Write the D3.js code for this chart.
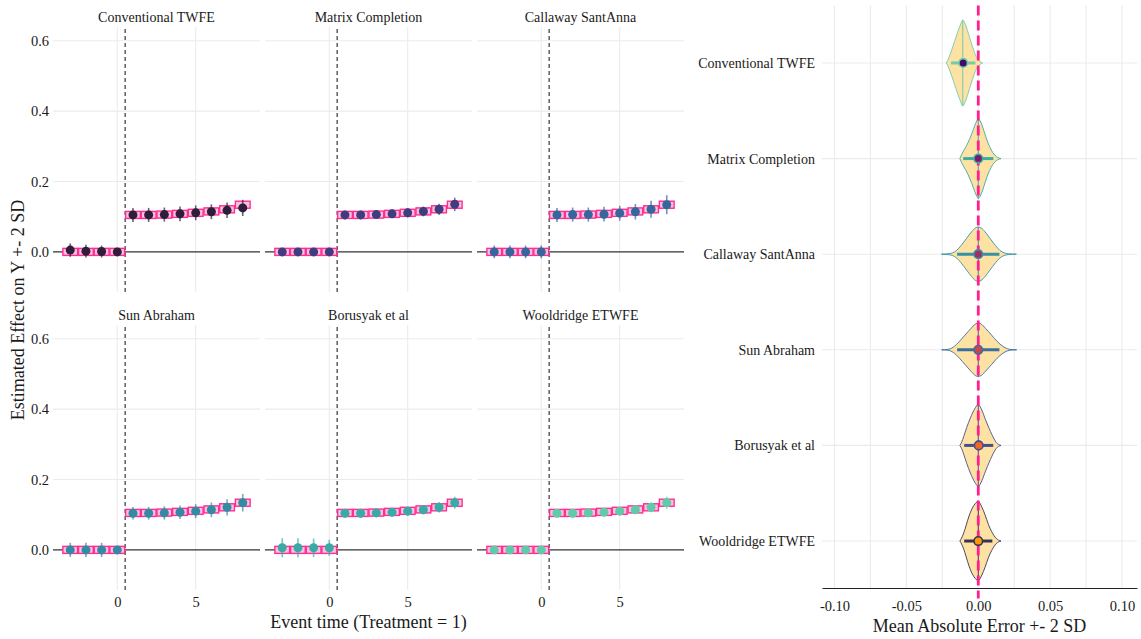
<!DOCTYPE html>
<html><head><meta charset="utf-8">
<script src="https://cdn.jsdelivr.net/npm/d3@7"></script>
<style>
body{margin:0;background:#fff}
text{font-family:"Liberation Serif","Times New Roman",serif;fill:#1a1a1a}
</style>
</head><body>
<svg id="c" width="1141" height="639"></svg>
<script>
// ---------------- DATA ----------------
const methods = ["Conventional TWFE","Matrix Completion","Callaway SantAnna","Sun Abraham","Borusyak et al","Wooldridge ETWFE"];
const eventTimes = [-3,-2,-1,0,1,2,3,4,5,6,7,8];
const trueEffect = [0,0,0,0,0.105,0.105,0.106,0.108,0.111,0.115,0.121,0.134];
const trueBand = 0.01;

const estTWFE = [0.005,0.002,0.001,0.000,0.105,0.105,0.106,0.108,0.111,0.114,0.118,0.125];
const errTWFE = [0.019,0.018,0.017,0.000,0.020,0.020,0.020,0.021,0.021,0.021,0.022,0.023];
const estMC   = [0,0,0,0,0.105,0.105,0.106,0.108,0.111,0.115,0.121,0.135];
const errMC   = [0.006,0.006,0.006,0.006,0.012,0.012,0.012,0.012,0.013,0.014,0.016,0.019];
const estCS   = [0,0,0,0,0.105,0.106,0.106,0.107,0.110,0.114,0.121,0.134];
const errCS   = [0.018,0.018,0.018,0.018,0.020,0.020,0.020,0.021,0.021,0.022,0.024,0.027];
const estSA   = [0,0,0,0,0.104,0.104,0.105,0.107,0.110,0.114,0.121,0.134];
const errSA   = [0.020,0.020,0.020,0.000,0.018,0.018,0.019,0.019,0.020,0.021,0.023,0.025];
const estBJS  = [0.006,0.006,0.006,0.006,0.104,0.104,0.105,0.107,0.110,0.114,0.121,0.134];
const errBJS  = [0.027,0.027,0.026,0.023,0.012,0.012,0.012,0.012,0.013,0.013,0.015,0.017];
const estWO   = [0,0,0,0,0.104,0.104,0.105,0.107,0.110,0.114,0.121,0.134];
const errWO   = [0.003,0.003,0.003,0.003,0.010,0.010,0.010,0.011,0.011,0.012,0.014,0.017];

const yTickVals = [0.0,0.2,0.4,0.6];
const xTickVals = [0,5];
const treatStart = 0.5;

// violin panel data (mean absolute error distributions)
const vioMean   = [-0.0105,0,0,0,0.0003,0];
const vioSD2    = [0.0085,0.0105,0.0147,0.0147,0.0101,0.0098];
const vioMedian = [-0.0108,0,0,0,0,0];
// density profiles: [x, relative density]
const densTWFE = [[-0.0222,0],[-0.0205,0.12],[-0.0185,0.3],[-0.0165,0.5],[-0.0145,0.7],[-0.0125,0.88],[-0.0108,1.0],[-0.009,0.9],[-0.007,0.7],[-0.005,0.48],[-0.003,0.28],[-0.001,0.12],[0.001,0.04],[0.003,0]];
const densMC   = [[-0.0128,0],[-0.0115,0.1],[-0.009,0.25],[-0.007,0.38],[-0.0045,0.58],[-0.0025,0.76],[-0.001,0.88],[0,0.93],[0.0012,0.88],[0.0028,0.76],[0.0048,0.55],[0.0068,0.36],[0.009,0.2],[0.0115,0.08],[0.0158,0]];
const densCS   = [[-0.0256,0],[-0.021,0.01],[-0.018,0.03],[-0.015,0.09],[-0.012,0.2],[-0.0081,0.37],[-0.0047,0.52],[-0.002,0.61],[0,0.63],[0.002,0.61],[0.0047,0.52],[0.0081,0.37],[0.012,0.2],[0.015,0.09],[0.018,0.03],[0.021,0.01],[0.0265,0]];
const densSA   = [[-0.0255,0],[-0.021,0.01],[-0.0174,0.06],[-0.013,0.2],[-0.0093,0.34],[-0.005,0.5],[-0.002,0.6],[0,0.62],[0.002,0.6],[0.005,0.5],[0.0093,0.34],[0.013,0.2],[0.0186,0.05],[0.022,0.01],[0.0267,0]];
const densBJS  = [[-0.0128,0],[-0.0115,0.08],[-0.0102,0.2],[-0.008,0.42],[-0.0055,0.64],[-0.0025,0.85],[0,0.95],[0.0025,0.82],[0.005,0.6],[0.0075,0.4],[0.0095,0.25],[0.0125,0.07],[0.0158,0]];
const densWO   = [[-0.0128,0],[-0.0116,0.07],[-0.0093,0.27],[-0.0075,0.47],[-0.0058,0.64],[-0.003,0.83],[0,0.92],[0.0025,0.79],[0.0047,0.61],[0.007,0.39],[0.0093,0.22],[0.0125,0.06],[0.0158,0]];
const vioTicks = [-0.10,-0.05,0.00,0.05,0.10];
const vioGrid  = [-0.1,-0.075,-0.05,-0.025,0,0.025,0.05,0.075,0.1];

// ---------------- STYLE / LAYOUT ----------------
const estimates = [estTWFE,estMC,estCS,estSA,estBJS,estWO];
const errors    = [errTWFE,errMC,errCS,errSA,errBJS,errWO];
const densities = [densTWFE,densMC,densCS,densSA,densBJS,densWO];
const dotColors  = ["#2e1e3c","#3f3d7f","#37659e","#348aa5","#3aaaa8","#60cbab"];
const vioLine    = ["#72ccab","#3aaca6","#3591a8","#3a6ea0","#474e8d","#3a3356"];
const vioDot     = ["#420a68","#781c6d","#a52c60","#cf4446","#ed6925","#fb9b06"];
const gridCol = "#ebebeb";

const svg = d3.select("#c");
const colX = [53,265,477], panelW = 207;
const rowY = [27,325], panelH = 265;

methods.forEach((m,i)=>{
  const col=i%3, row=Math.floor(i/3);
  const x=d3.scaleLinear().domain([-4.1,9.1]).range([colX[col],colX[col]+panelW]);
  const y=d3.scaleLinear().domain([-0.114,0.639]).range([rowY[row]+panelH,rowY[row]]);
  const g=svg.append("g");
  g.selectAll(".hg").data(yTickVals.filter(v=>v>0)).join("line")
    .attr("x1",x.range()[0]).attr("x2",x.range()[1]).attr("y1",d=>y(d)).attr("y2",d=>y(d))
    .attr("stroke",gridCol).attr("stroke-width",1.1);
  g.selectAll(".vg").data(xTickVals).join("line")
    .attr("x1",d=>x(d)).attr("x2",d=>x(d)).attr("y1",y.range()[0]).attr("y2",y.range()[1])
    .attr("stroke",gridCol).attr("stroke-width",1.1);
  g.append("line").attr("x1",x.range()[0]).attr("x2",x.range()[1]).attr("y1",y(0)).attr("y2",y(0))
    .attr("stroke","#333").attr("stroke-width",1.2);
  g.append("line").attr("x1",x(treatStart)).attr("x2",x(treatStart)).attr("y1",y.range()[0]).attr("y2",y.range()[1])
    .attr("stroke","#222").attr("stroke-width",1.1).attr("stroke-dasharray","4,3");
  // true-effect boxes
  g.selectAll(".bx").data(eventTimes).join("rect")
    .attr("x",(d)=>x(d-0.47)).attr("width",x(0.94)-x(0))
    .attr("y",(d,k)=>y(trueEffect[k]+trueBand)).attr("height",(d,k)=>y(trueEffect[k]-trueBand)-y(trueEffect[k]+trueBand))
    .attr("fill","#f7c3da").attr("stroke","#ff2d95").attr("stroke-width",1.4);
  // error bars
  g.selectAll(".eb").data(eventTimes).join("line")
    .attr("x1",d=>x(d)).attr("x2",d=>x(d))
    .attr("y1",(d,k)=>y(estimates[i][k]-errors[i][k])).attr("y2",(d,k)=>y(estimates[i][k]+errors[i][k]))
    .attr("stroke",dotColors[i]).attr("stroke-opacity",0.7).attr("stroke-width",1.6);
  g.selectAll(".pt").data(eventTimes).join("circle")
    .attr("cx",d=>x(d)).attr("cy",(d,k)=>y(estimates[i][k])).attr("r",4.5)
    .attr("fill",dotColors[i]);
  // strip
  g.append("text").attr("x",colX[col]+panelW/2).attr("y",rowY[row]-10).attr("text-anchor","middle")
    .attr("dominant-baseline","central").style("font-size","14px").text(m);
  if(col===0){
    const ax=g.append("g").attr("transform",`translate(${colX[0]},0)`)
      .call(d3.axisLeft(y).tickValues(yTickVals).tickSize(0).tickPadding(4).tickFormat(d=>d.toFixed(1)));
    ax.select(".domain").remove();
    ax.selectAll("text").style("font-size","14.5px").style("font-family","Liberation Serif").attr("fill","#222");
  }
  if(row===1){
    const ax=g.append("g").attr("transform",`translate(0,${rowY[1]+panelH})`)
      .call(d3.axisBottom(x).tickValues(xTickVals).tickSize(0).tickPadding(7));
    ax.select(".domain").remove();
    ax.selectAll("text").style("font-size","14.5px").style("font-family","Liberation Serif").attr("fill","#222");
  }
});
svg.append("text").attr("x",(colX[0]+colX[2]+panelW)/2).attr("y",622).attr("text-anchor","middle")
  .attr("dominant-baseline","central").style("font-size","18px").text("Event time (Treatment = 1)");
svg.append("text").attr("transform",`translate(18,310) rotate(-90)`).attr("text-anchor","middle")
  .attr("dominant-baseline","central").style("font-size","18px").text("Estimated Effect on Y +- 2 SD");

// ---------------- VIOLIN PANEL ----------------
const xv=d3.scaleLinear().domain([-0.1087,0.1104]).range([822,1137]);
const yv=d3.scalePoint().domain(methods).range([5.6,598.4]).padding(0.6);
const hs=d3.scaleLinear().domain([0,1]).range([0,43]);
const axisY=588;
const vg=svg.append("g");
vg.selectAll(".vgx").data(vioGrid).join("line")
  .attr("x1",d=>xv(d)).attr("x2",d=>xv(d)).attr("y1",5.6).attr("y2",axisY)
  .attr("stroke",gridCol).attr("stroke-width",1.1);
vg.selectAll(".vgy").data(methods).join("line")
  .attr("x1",822).attr("x2",1137).attr("y1",d=>yv(d)).attr("y2",d=>yv(d))
  .attr("stroke",gridCol).attr("stroke-width",1.1);
function interp(prof,xq){
  for(let k=0;k<prof.length-1;k++){
    const a=prof[k],b=prof[k+1];
    if(xq>=a[0]&&xq<=b[0]) return a[1]+(b[1]-a[1])*(xq-a[0])/(b[0]-a[0]);
  }
  return 0;
}
methods.forEach((m,i)=>{
  const yc=yv(m);
  const area=d3.area().x(d=>xv(d[0])).y0(d=>yc+hs(d[1])).y1(d=>yc-hs(d[1])).curve(d3.curveMonotoneX);
  vg.append("path").attr("d",area(densities[i])).attr("fill","#fde2a4").attr("stroke",vioLine[i]).attr("stroke-width",0.9);
  const hm=hs(interp(densities[i],vioMedian[i]));
  vg.append("line").attr("x1",xv(vioMedian[i])).attr("x2",xv(vioMedian[i])).attr("y1",yc-hm).attr("y2",yc+hm)
    .attr("stroke",vioLine[i]).attr("stroke-width",1);
});
vg.append("line").attr("x1",xv(0)).attr("x2",xv(0)).attr("y1",5.6).attr("y2",598.4)
  .attr("stroke","#ff1f8f").attr("stroke-width",2.8).attr("stroke-dasharray","10,5");
methods.forEach((m,i)=>{
  const yc=yv(m);
  vg.append("line").attr("x1",xv(vioMean[i]-vioSD2[i])).attr("x2",xv(vioMean[i]+vioSD2[i])).attr("y1",yc).attr("y2",yc)
    .attr("stroke",vioLine[i]).attr("stroke-width",3);
  vg.append("circle").attr("cx",xv(vioMean[i])).attr("cy",yc).attr("r",4.3)
    .attr("fill",vioDot[i]).attr("stroke",vioLine[i]).attr("stroke-width",1.6);
});
const axB=vg.append("g").attr("transform",`translate(0,${axisY})`)
  .call(d3.axisBottom(xv).tickValues(vioTicks).tickSize(0).tickPadding(13).tickFormat(d=>d.toFixed(2)));
axB.select(".domain").attr("stroke","#222").attr("stroke-width",1.2);
axB.selectAll("text").style("font-size","14.5px").style("font-family","Liberation Serif").attr("fill","#222");
const axL=vg.append("g").attr("transform","translate(822,0)")
  .call(d3.axisLeft(yv).tickSize(0).tickPadding(7));
axL.select(".domain").remove();
axL.selectAll("text").style("font-size","14px").style("font-family","Liberation Serif").attr("fill","#1a1a1a");
svg.append("text").attr("x",(822+1137)/2).attr("y",626).attr("text-anchor","middle")
  .attr("dominant-baseline","central").style("font-size","18px").text("Mean Absolute Error +- 2 SD");
</script>
</body></html>
